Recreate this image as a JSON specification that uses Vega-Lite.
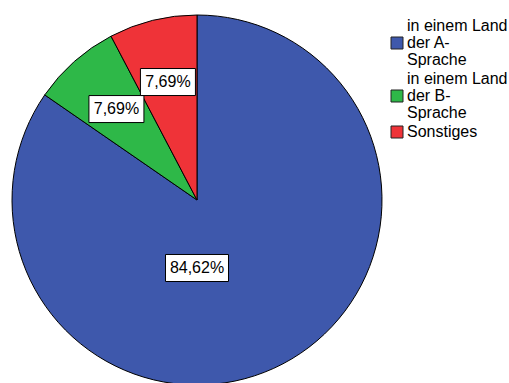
{
  "$schema": "https://vega.github.io/schema/vega-lite/v6.json",
  "width": 370,
  "height": 370,
  "padding": {"left": 10, "top": 13, "right": 0, "bottom": 0},
  "autosize": {"type": "pad"},
  "background": "white",
  "config": {"view": {"stroke": null}},
  "data": {
    "values": [
      {"Wohnort": "in einem Land der A-Sprache", "Anzahl": 11, "Reihenfolge": 1},
      {"Wohnort": "in einem Land der B-Sprache", "Anzahl": 1, "Reihenfolge": 2},
      {"Wohnort": "Sonstiges", "Anzahl": 1, "Reihenfolge": 3}
    ]
  },
  "transform": [
    {"joinaggregate": [{"op": "sum", "field": "Anzahl", "as": "Gesamt"}]},
    {"calculate": "datum.Anzahl / datum.Gesamt", "as": "Anteil"},
    {"window": [{"op": "sum", "field": "Anteil", "as": "Kum"}], "sort": [{"field": "Reihenfolge", "order": "ascending"}], "frame": [null, 0]},
    {"calculate": "datum.Anteil > 0.5 ? PI : 2 * PI * (datum.Kum - datum.Anteil / 2)", "as": "Winkel"},
    {"calculate": "datum.Anteil > 0.5 ? 68 : 121.5", "as": "Abstand"},
    {"calculate": "datum.Abstand * sin(datum.Winkel)", "as": "lx"},
    {"calculate": "datum.Abstand * cos(datum.Winkel)", "as": "ly"},
    {"calculate": "replace(format(datum.Anteil, '.2%'), '.', ',')", "as": "Etikett"}
  ],
  "layer": [
    {
      "mark": {"type": "arc", "stroke": "#000000", "strokeWidth": 1},
      "encoding": {
        "theta": {"field": "Anzahl", "type": "quantitative", "stack": true},
        "order": {"field": "Reihenfolge", "type": "quantitative", "sort": "ascending"},
        "color": {
          "field": "Wohnort",
          "type": "nominal",
          "scale": {
            "domain": ["in einem Land der A-Sprache", "in einem Land der B-Sprache", "Sonstiges"],
            "range": ["#3e58ac", "#2eb848", "#ef3338"]
          },
          "legend": {
            "title": null,
            "orient": "none",
            "legendX": 377,
            "legendY": 20,
            "padding": 0,
            "symbolType": "square",
            "symbolSize": 144,
            "symbolStrokeColor": "#222222",
            "symbolStrokeWidth": 1,
            "symbolOpacity": 1,
            "labelFont": "Liberation Sans",
            "labelFontSize": 16,
            "labelColor": "#000000",
            "labelOffset": 2,
            "labelLimit": 300,
            "rowPadding": 3,
            "labelExpr": "datum.label == 'Sonstiges' ? datum.label : [slice(datum.label, 0, 13), slice(datum.label, 14, 20), slice(datum.label, 20)]",
            "encode": {"labels": {"update": {"lineHeight": {"value": 17}, "dy": {"signal": "datum.label == 'Sonstiges' ? 0 : -17"}}}}
          }
        }
      }
    },
    {
      "mark": {"type": "point", "filled": true, "fill": "white", "stroke": "#000000", "strokeWidth": 1, "opacity": 1},
      "encoding": {
        "x": {"field": "lx", "type": "quantitative", "scale": {"domain": [-185, 185], "nice": false, "zero": false}, "axis": null},
        "y": {"field": "ly", "type": "quantitative", "scale": {"domain": [-185, 185], "nice": false, "zero": false}, "axis": null},
        "shape": {"condition": {"test": "datum.Anteil > 0.5", "value": "M-1,-0.4286H1V0.4286H-1Z"}, "value": "M-1,-0.491H1V0.491H-1Z"},
        "size": {"condition": {"test": "datum.Anteil > 0.5", "value": 3969}, "value": 3025}
      }
    },
    {
      "mark": {"type": "text", "font": "Liberation Sans", "fontSize": 16, "color": "#000000", "align": "center", "baseline": "middle"},
      "encoding": {
        "x": {"field": "lx", "type": "quantitative"},
        "y": {"field": "ly", "type": "quantitative"},
        "text": {"field": "Etikett", "type": "nominal"}
      }
    }
  ]
}
